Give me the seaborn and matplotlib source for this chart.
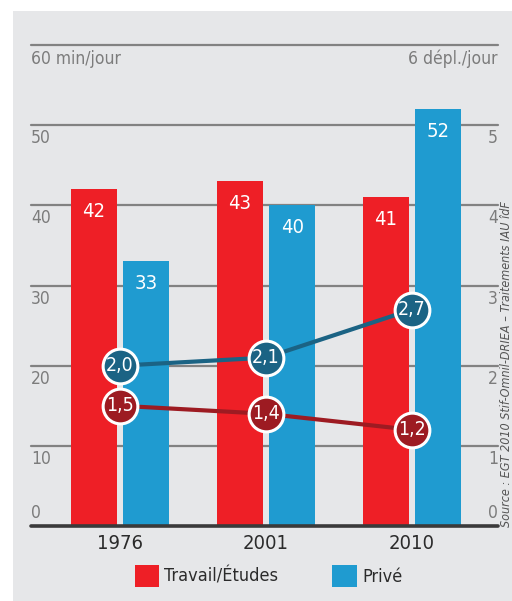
import matplotlib
matplotlib.use("Agg")
import matplotlib.pyplot as plt
import matplotlib.transforms as mtransforms
from matplotlib.patches import Rectangle
import seaborn as sns
import pandas as pd

# ---- data ----
years = ["1976", "2001", "2010"]
motifs = ["Travail/Études", "Privé"]
minutes_travail = [42, 43, 41]
minutes_prive = [33, 40, 52]
depl_travail = [1.5, 1.4, 1.2]
depl_prive = [2.0, 2.1, 2.7]
left_ticks = [0, 10, 20, 30, 40, 50]
left_tick_labels = ["0", "10", "20", "30", "40", "50"]
right_ticks = [0, 1, 2, 3, 4, 5]
right_tick_labels = ["0", "1", "2", "3", "4", "5"]
left_header = "60 min/jour"
right_header = "6 dépl./jour"
source = "Source : EGT 2010 Stif-Omnil-DRIEA – Traitements IAU îdF"

RED = "#ee1f26"
BLUE = "#1f9bd0"
DARK_BLUE = "#1b6384"
DARK_RED = "#9d1b22"
BG = "#e6e7e9"
GRID = "#828282"
TICK = "#7c7c7c"

sns.set_style("white")
plt.rcParams["font.family"] = ["DejaVu Sans"]
plt.rcParams["font.stretch"] = "condensed"
FAM = {"family": "DejaVu Sans", "stretch": "condensed"}

df = pd.DataFrame({
    "annee": years * 2,
    "motif": [motifs[0]] * 3 + [motifs[1]] * 3,
    "minutes": minutes_travail + minutes_prive,
})

W, H = 512, 601
fig = plt.figure(figsize=(W / 100, H / 100), dpi=100, facecolor="white")
fig.patches.append(Rectangle((13 / W, 0), 1, (H - 11) / H, transform=fig.transFigure,
                             facecolor=BG, edgecolor="none", zorder=-10))

ax = fig.add_axes([31 / W, (H - 526) / H, (498 - 31) / W, (526 - 45) / H])
ax.set_facecolor("none")

sns.barplot(data=df, x="annee", y="minutes", hue="motif", palette=[RED, BLUE],
            saturation=1, width=0.72, gap=0.125, ax=ax, zorder=3, linewidth=0)

ax.set_ylim(0, 60)
ax.set_xlim(-0.61, 2.59)
for s in ax.spines.values():
    s.set_visible(False)
ax.set_xlabel("")
ax.set_ylabel("")
ax.set_yticks([])
ax.tick_params(axis="x", length=0, pad=6, labelsize=14.5, labelcolor="#2b2b2b")
for t in ax.get_xticklabels():
    t.set_fontstretch("condensed")

# gridlines
for v in left_ticks[1:] + [60]:
    ax.axhline(v, color=GRID, lw=1.6, zorder=1, clip_on=False)
ax.axhline(0, color="#3a3a3a", lw=2.6, zorder=5, clip_on=False)

# tick labels (left and right, under the gridlines)
ytr = ax.get_yaxis_transform()
below = mtransforms.offset_copy(ytr, fig=fig, x=0, y=-4, units="dots")
above = mtransforms.offset_copy(ytr, fig=fig, x=0, y=4, units="dots")
for v, lab in zip(left_ticks, left_tick_labels):
    ax.text(0, v, lab, transform=above if v == 0 else below, ha="left",
            va="bottom" if v == 0 else "top", color=TICK, fontsize=12.5, **FAM)
for v, lab in zip(right_ticks, right_tick_labels):
    ax.text(1, v * 10, lab, transform=above if v == 0 else below, ha="right",
            va="bottom" if v == 0 else "top", color=TICK, fontsize=12.5, **FAM)
hdr = mtransforms.offset_copy(ytr, fig=fig, x=0, y=-5, units="dots")
ax.text(0, 60, left_header, transform=hdr, ha="left", va="top", color=TICK, fontsize=12.5, **FAM)
ax.text(1, 60, right_header, transform=hdr, ha="right", va="top", color=TICK, fontsize=12.5, **FAM)

# bar value labels
for cont in ax.containers:
    for bar in cont:
        h = bar.get_height()
        ax.annotate(f"{h:.0f}", (bar.get_x() + bar.get_width() / 2, h),
                    xytext=(0, -9), textcoords="offset points", ha="center", va="top",
                    color="white", fontsize=14.5, zorder=6, **FAM)

# legend
leg = ax.get_legend()
handles = leg.legend_handles
labels = [t.get_text() for t in leg.texts]
leg.remove()
fig.legend(handles, labels, loc="center", bbox_to_anchor=(268.5 / W, (H - 576) / H),
           ncol=2, frameon=False, handlelength=1.35, handleheight=1.45,
           handletextpad=0.3, columnspacing=3.0, borderpad=0, labelcolor="#2b2b2b",
           prop={"family": "DejaVu Sans", "stretch": "condensed", "size": 13})

# secondary axis: trips per day
ax2 = ax.twinx()
ax2.set_ylim(0, 6)
for vals, col in [(depl_prive, DARK_BLUE), (depl_travail, DARK_RED)]:
    sns.pointplot(x=years, y=vals, ax=ax2, color=col, errorbar=None,
                  markersize=25, markeredgecolor="white", markeredgewidth=2.2,
                  linewidth=3)
    for i, v in enumerate(vals):
        ax2.text(i, v, f"{v:.1f}".replace(".", ","), ha="center", va="center",
                 color="white", fontsize=14, zorder=10, **FAM)
ax2.set_ylim(0, 6)
ax2.set_yticks([])
ax2.set_ylabel("")
ax2.set_xlabel("")
for s in ax2.spines.values():
    s.set_visible(False)
ax2.xaxis.set_visible(False)
ax.set_xlim(-0.61, 2.59)

# source
fig.text(500.5 / W, (H - 527) / H, source, rotation=90, ha="left", va="bottom",
         fontsize=9, style="italic", color="#555555", **FAM)

fig.savefig("out.png", dpi=100, facecolor="white")
